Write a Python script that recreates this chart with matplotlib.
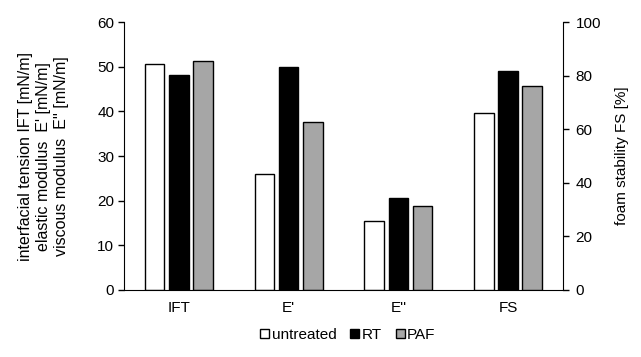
import numpy as np
import matplotlib.pyplot as plt

plt.rcParams['font.family'] = ['Liberation Sans', 'DejaVu Sans']
plt.rcParams['font.size'] = 11

categories = ["IFT", "E'", "E''", "FS"]
series = ["untreated", "RT", "PAF"]
# IFT, E', E'' in mN/m (left axis); FS in % (right axis)
untreated = [50.7, 26.0, 15.5, 65.9]
rt = [48.1, 50.0, 20.7, 81.8]
paf = [51.3, 37.6, 18.8, 76.0]
colors = ['white', 'black', '#a6a6a6']

fig = plt.figure(figsize=(6.41, 3.57), dpi=100)
ax = fig.add_axes([0.1934, 0.1877, 0.6849, 0.7503])
ax2 = ax.twinx()

x = np.arange(len(categories))
width = 0.178
step = 0.22
for i, (name, vals, c) in enumerate(zip(series, [untreated, rt, paf], colors)):
    pos = x + (i - 1) * step
    # first three groups on left axis, FS on right axis
    ax.bar(pos[:3], vals[:3], width, color=c, edgecolor='black', linewidth=1.0, label=name)
    ax2.bar(pos[3:], vals[3:], width, color=c, edgecolor='black', linewidth=1.0)

ax.set_xlim(-0.5, 3.5)
ax.set_ylim(0, 60)
ax2.set_ylim(0, 100)
ax.set_yticks(range(0, 61, 10))
ax2.set_yticks(range(0, 101, 20))
ax.set_xticks(x)
ax.set_xticklabels(categories)
ax.tick_params(axis='x', length=0, pad=8)
ax.tick_params(axis='y', direction='out', length=4, width=1, pad=3)
ax2.tick_params(axis='y', direction='out', length=4, width=1, pad=5)

for a in (ax, ax2):
    a.spines['top'].set_visible(False)
ax.spines['right'].set_visible(False)
ax2.spines['left'].set_visible(False)
ax2.spines['bottom'].set_visible(False)

ax.set_ylabel("interfacial tension IFT [mN/m]\nelastic modulus  E' [mN/m]\nviscous modulus  E'' [mN/m]",
              linespacing=1.25, labelpad=20, fontsize=11.5)
ax2.set_ylabel("foam stability FS [%]", labelpad=10)

ax.legend(loc='center', bbox_to_anchor=(0.51, -0.168), ncol=3, frameon=False,
          handlelength=0.6, handleheight=0.6, handletextpad=0.15, columnspacing=0.9,
          borderaxespad=0)

fig.savefig('out.png', dpi=100)
